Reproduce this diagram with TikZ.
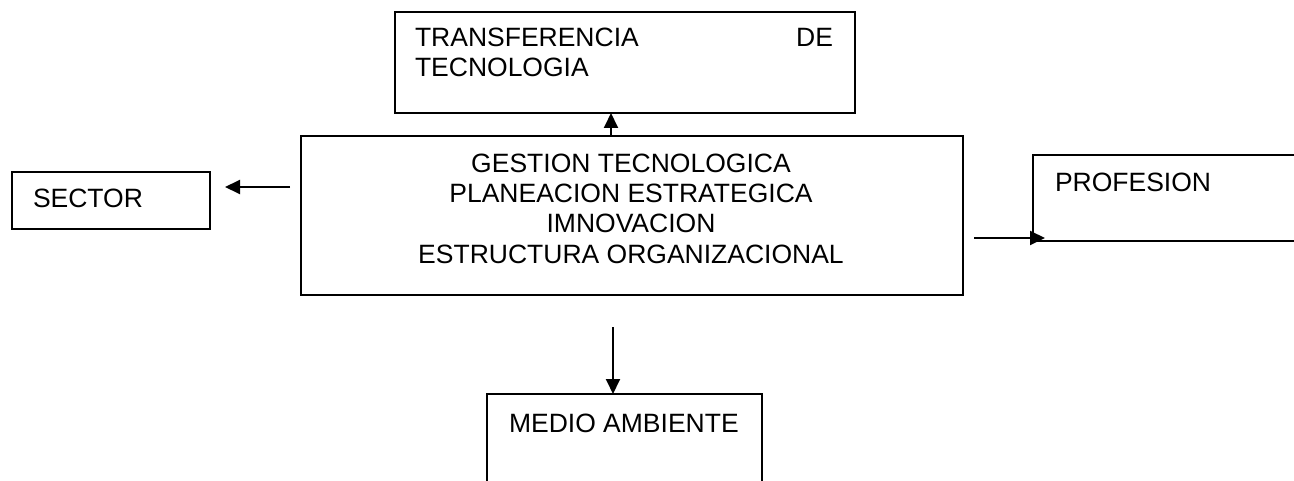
\documentclass[tikz,border=0pt]{standalone}
\usepackage{fontspec}
\setmainfont{Liberation Sans}
\usetikzlibrary{arrows.meta,calc}
\tikzset{
  box/.style={draw, line width=1.9pt, inner sep=0pt, outer sep=0pt},
  txt/.style={inner sep=0pt, outer sep=0pt, font=\fontsize{26.5}{30}\selectfont},
  arr/.style={line width=1.9pt, -{Triangle[length=15pt,width=14pt]}}
}
\begin{document}
\begin{tikzpicture}[x=1pt,y=-1pt]
\useasboundingbox (0,0) rectangle (1294,481);
\clip (0,0) rectangle (1294,481);
% boxes
\node[box, minimum width=460pt, minimum height=101pt] (tt) at (625,62.5) {};
\node[box, minimum width=662pt, minimum height=159pt] (main) at (632,215.5) {};
\node[box, minimum width=198pt, minimum height=57pt] (sector) at (111,200.5) {};
\node[box, minimum width=287pt, minimum height=86pt] (prof) at (1176.5,198) {};
\node[box, minimum width=275pt, minimum height=126pt] (medio) at (624.5,457) {};
% texts
\node[txt, anchor=base west] (t1) at (415,47) {TRANSFERENCIA};
\node[txt, anchor=base east] (t2) at (833,47) {DE};
\node[txt, anchor=base west] (t3) at (415,77) {TECNOLOGIA};
\node[txt, anchor=base] (m1) at (631,173) {GESTION TECNOLOGICA};
\node[txt, anchor=base] (m2) at (631,203) {PLANEACION ESTRATEGICA};
\node[txt, anchor=base] (m3) at (631,233) {IMNOVACION};
\node[txt, anchor=base] (m4) at (631,264) {ESTRUCTURA ORGANIZACIONAL};
\node[txt, anchor=base west] (s1) at (33,208) {SECTOR};
\node[txt, anchor=base west] (p1) at (1055,192) {PROFESION};
\node[txt, anchor=base west] (e1) at (509,432) {MEDIO AMBIENTE};
% connectors
\coordinate (ua) at ([xshift=-21pt]main.north);
\draw[arr] (ua) -- (ua |- tt.south);
\coordinate (la) at ([xshift=-11pt,yshift=28.5pt]main.west);
\coordinate (lb) at ($(sector.east |- la)+(15pt,0)$);
\draw[arr] (la) -- (lb);
\coordinate (ra) at ([xshift=11pt,yshift=-22.5pt]main.east);
\coordinate (rb) at ($(prof.west |- ra)+(12pt,0)$);
\draw[arr] (ra) -- (rb);
\coordinate (da) at ([xshift=-19pt,yshift=-32pt]main.south);
\draw[arr] (da) -- (da |- medio.north);
\end{tikzpicture}
\end{document}
